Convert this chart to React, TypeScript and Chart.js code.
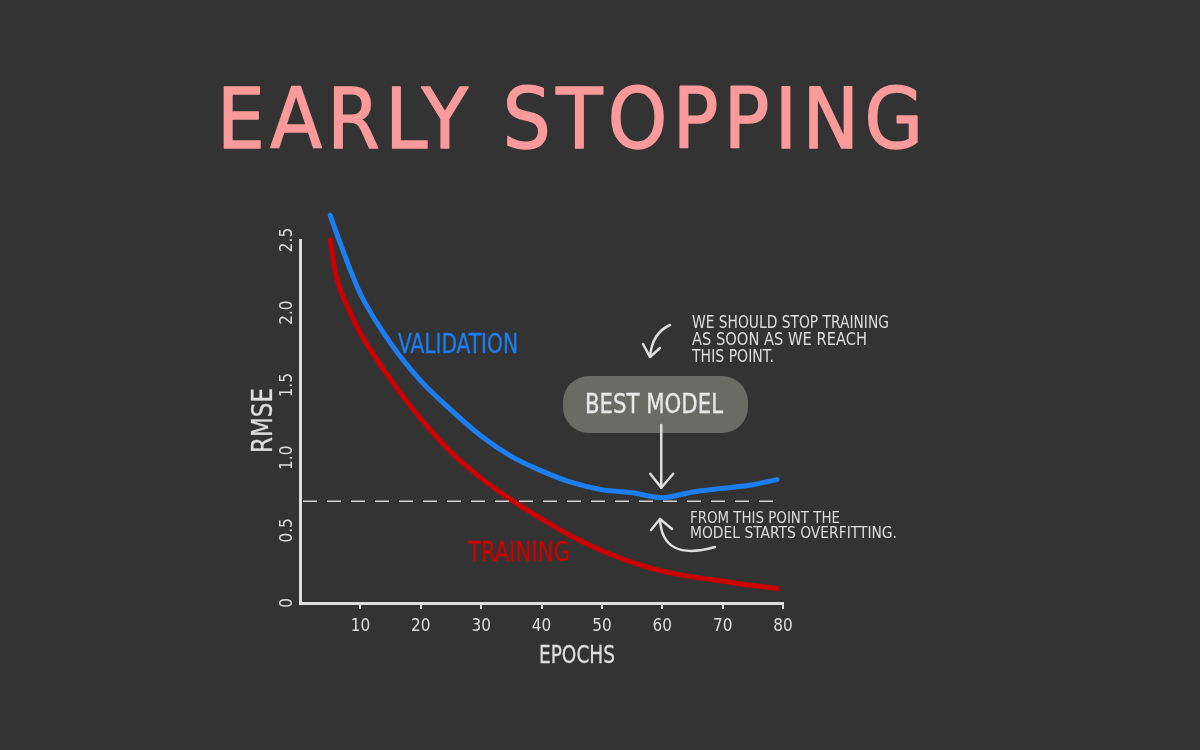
import React, { useEffect, useRef } from "react";
import { Chart, registerables } from "chart.js";

Chart.register(...registerables);

// ---- data ----
const validationEpochs = [5, 7, 10, 15, 20, 25, 30, 35, 40, 45, 50, 55, 60, 65, 70, 75, 79];
const validationRmse = [2.67, 2.44, 2.13, 1.79, 1.53, 1.33, 1.15, 1.01, 0.91, 0.83, 0.78, 0.76, 0.725, 0.765, 0.79, 0.815, 0.85];
const trainingEpochs = [5, 6, 8, 10, 15, 20, 25, 30, 35, 40, 45, 50, 55, 60, 65, 70, 75, 79];
const trainingRmse = [2.5, 2.25, 2.03, 1.86, 1.54, 1.27, 1.04, 0.86, 0.71, 0.58, 0.46, 0.36, 0.28, 0.22, 0.18, 0.15, 0.12, 0.1];
const thresholdEpochs = [0.5, 80];
const thresholdRmse = [0.7, 0.7];
const xTickValues = [10, 20, 30, 40, 50, 60, 70, 80];
const yTickValues = [0, 0.5, 1.0, 1.5, 2.0, 2.5];
const bestEpoch = 60;
const bestRmse = 0.725;

const titleText = "EARLY STOPPING";
const noteTop = ["WE SHOULD STOP TRAINING", "AS SOON AS WE REACH", "THIS POINT."];
const noteBottom = ["FROM THIS POINT THE", "MODEL STARTS OVERFITTING."];

const FONT = '"Liberation Sans Narrow", "DejaVu Sans Condensed", "Roboto Condensed", "Liberation Sans", sans-serif';
const BG = "#333333";
const INK = "#dedede";
const BLUE = "#1c7ef0";
const RED = "#cc0000";
const PINK = "#fa9a9a";

function drawFitted(ctx: CanvasRenderingContext2D, text: string, x: number, y: number, width: number, size: number, color: string, stroke = 0) {
  ctx.save();
  ctx.font = `${size}px ${FONT}`;
  ctx.fillStyle = color;
  ctx.strokeStyle = color;
  ctx.lineJoin = "round";
  ctx.lineCap = "round";
  ctx.textBaseline = "alphabetic";
  ctx.textAlign = "left";
  const anyCtx = ctx as any;
  if ("letterSpacing" in anyCtx) anyCtx.letterSpacing = "0px";
  const w0 = ctx.measureText(text).width;
  const n = text.length;
  const s = n > 1 ? (width - w0) / (n - 1) : 0;
  if (s >= 0 && "letterSpacing" in anyCtx) {
    anyCtx.letterSpacing = s + "px";
    ctx.fillText(text, x, y);
    if (stroke > 0) {
      ctx.lineWidth = stroke;
      ctx.strokeText(text, x, y);
    }
  } else {
    ctx.translate(x, y);
    ctx.scale(width / w0, 1);
    ctx.fillText(text, 0, 0);
    if (stroke > 0) {
      ctx.lineWidth = stroke;
      ctx.strokeText(text, 0, 0);
    }
  }
  ctx.restore();
}

function arrowHead(ctx: CanvasRenderingContext2D, tipX: number, tipY: number, ax: number, ay: number, bx: number, by: number) {
  ctx.beginPath();
  ctx.moveTo(ax, ay);
  ctx.lineTo(tipX, tipY);
  ctx.lineTo(bx, by);
  ctx.stroke();
}

const bgPlugin = {
  id: "bg",
  beforeDraw(chart: any) {
    const ctx = chart.ctx;
    ctx.save();
    ctx.fillStyle = BG;
    ctx.fillRect(0, 0, chart.width, chart.height);
    ctx.restore();
  },
};

const annotationPlugin = {
  id: "notes",
  afterDraw(chart: any) {
    const ctx: CanvasRenderingContext2D = chart.ctx;
    const xs = chart.scales.x;
    const ys = chart.scales.y;

    // title
    drawFitted(ctx, titleText, 217, 148, 706, 84, PINK, 1.5);

    // series labels
    drawFitted(ctx, "VALIDATION", 398, 353, 120, 26, BLUE, 0.3);
    drawFitted(ctx, "TRAINING", 468, 561, 102, 26, RED, 0.3);

    // axis titles
    ctx.save();
    ctx.translate(272, 453);
    ctx.rotate(-Math.PI / 2);
    drawFitted(ctx, "RMSE", 0, 0, 65, 28, INK, 0.3);
    ctx.restore();
    drawFitted(ctx, "EPOCHS", 539, 663, 76, 24, INK, 0.3);

    // top note
    const topW = [197, 175, 82];
    noteTop.forEach((t, i) => drawFitted(ctx, t, 692, 328 + i * 17, topW[i], 17, INK));
    const botW = [150, 207];
    noteBottom.forEach((t, i) => drawFitted(ctx, t, 690, 523 + i * 14.5, botW[i], 16, INK));

    // best model box
    ctx.save();
    ctx.fillStyle = "#6b6b66";
    ctx.beginPath();
    (ctx as any).roundRect(563, 376, 185, 57, 26);
    ctx.fill();
    ctx.restore();
    drawFitted(ctx, "BEST MODEL", 585, 413, 138, 26, "#e8e8e8", 0.3);

    // arrows
    const px = xs.getPixelForValue(bestEpoch);
    const py = ys.getPixelForValue(bestRmse);
    ctx.save();
    ctx.strokeStyle = INK;
    ctx.lineWidth = 2.5;
    ctx.lineCap = "round";
    ctx.lineJoin = "round";
    // straight arrow from box to best point
    ctx.beginPath();
    ctx.moveTo(px - 1, 425);
    ctx.lineTo(px - 1, py - 10);
    ctx.stroke();
    arrowHead(ctx, px - 1, py - 10, px - 12, py - 24, px + 11, py - 24);

    // curved arrow near top note
    ctx.beginPath();
    ctx.moveTo(670, 325);
    ctx.quadraticCurveTo(652, 333, 650, 357);
    ctx.stroke();
    arrowHead(ctx, 650, 357, 643, 344, 660, 348);

    // curved arrow near bottom note
    ctx.beginPath();
    ctx.moveTo(715, 547);
    ctx.quadraticCurveTo(662, 562, 660, 519);
    ctx.stroke();
    arrowHead(ctx, 660, 519, 651, 530, 672, 529);
    ctx.restore();
  },
};

export default function App() {
  const ref = useRef<HTMLCanvasElement | null>(null);

  useEffect(() => {
    if (!ref.current) return;
    const chart = new Chart(ref.current, {
      type: "line",
      data: {
        datasets: [
          {
            label: "Threshold",
            data: thresholdEpochs.map((x, i) => ({ x, y: thresholdRmse[i] })),
            borderColor: "#d0d0d0",
            borderWidth: 1.5,
            borderDash: [14, 10],
            pointRadius: 0,
            fill: false,
          },
          {
            label: "Training",
            data: trainingEpochs.map((x, i) => ({ x, y: trainingRmse[i] })),
            borderColor: RED,
            borderWidth: 5,
            pointRadius: 0,
            cubicInterpolationMode: "monotone",
            borderCapStyle: "round",
            borderJoinStyle: "round",
            clip: false,
            fill: false,
          },
          {
            label: "Validation",
            data: validationEpochs.map((x, i) => ({ x, y: validationRmse[i] })),
            borderColor: BLUE,
            borderWidth: 5,
            pointRadius: 0,
            cubicInterpolationMode: "monotone",
            borderCapStyle: "round",
            borderJoinStyle: "round",
            clip: false,
            fill: false,
          },
        ] as any,
      },
      options: {
        responsive: false,
        animation: false,
        devicePixelRatio: 1,
        layout: { padding: { left: 250, right: 417, top: 240, bottom: 107 } },
        plugins: {
          legend: { display: false },
          tooltip: { enabled: false },
          title: { display: false },
        },
        scales: {
          x: {
            type: "linear",
            min: 0,
            max: 80,
            afterBuildTicks: (s: any) => {
              s.ticks = xTickValues.map((v) => ({ value: v }));
            },
            afterFit: (s: any) => {
              s.height = 40;
            },
            ticks: {
              color: INK,
              font: { family: FONT, size: 17 },
              padding: 7,
              maxRotation: 0,
              autoSkip: false,
            },
            grid: { drawOnChartArea: false, drawTicks: true, tickLength: 6, color: INK, lineWidth: 2 },
            border: { display: true, color: INK, width: 3 },
          },
          y: {
            type: "linear",
            min: 0,
            max: 2.5,
            afterBuildTicks: (s: any) => {
              s.ticks = yTickValues.map((v) => ({ value: v }));
            },
            afterFit: (s: any) => {
              s.width = 50;
            },
            ticks: {
              color: INK,
              font: { family: FONT, size: 17 },
              minRotation: 90,
              maxRotation: 90,
              crossAlign: "center",
              padding: 0,
              callback: (v: any) => (Number(v) === 0 ? "0" : Number(v).toFixed(1)),
            },
            grid: { display: false, drawTicks: false },
            border: { display: true, color: INK, width: 3 },
          },
        },
      } as any,
      plugins: [bgPlugin, annotationPlugin],
    });
    return () => chart.destroy();
  }, []);

  return (
    <div style={{ position: "fixed", left: 0, top: 0, width: 1200, height: 750, background: BG }}>
      <canvas ref={ref} width={1200} height={750} style={{ display: "block", width: 1200, height: 750 }} />
    </div>
  );
}
